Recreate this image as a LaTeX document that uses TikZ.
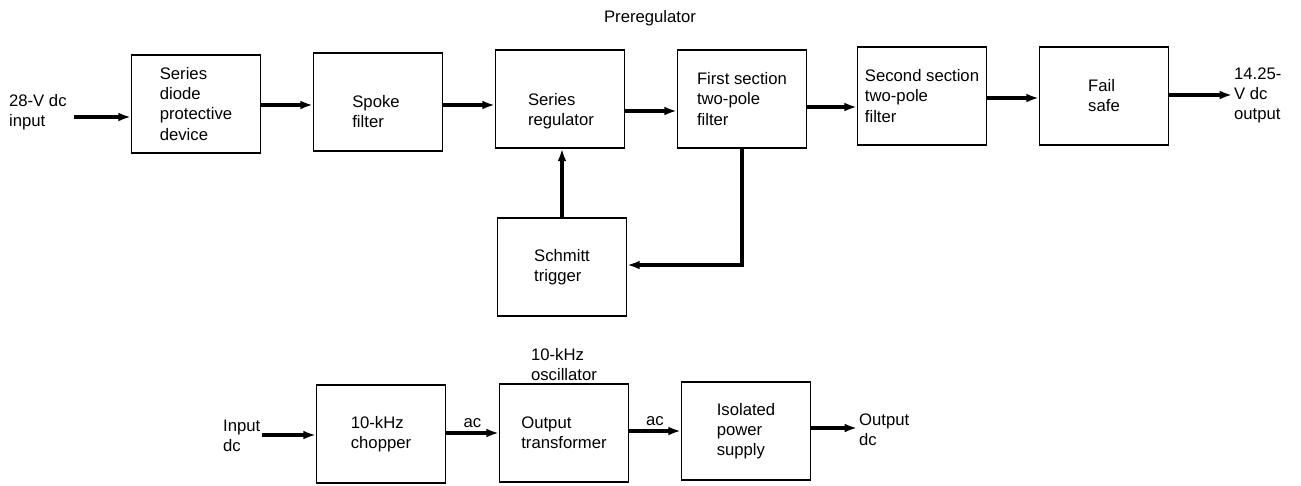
\documentclass[tikz,border=0pt]{standalone}
\usepackage{fontspec}
\setmainfont{Liberation Sans}
\usetikzlibrary{arrows.meta,positioning}
\tikzset{
	blk/.style={draw, line width=0.9pt, minimum width=2.58cm, minimum height=1.96cm, align=left},
	lbl/.style={align=left, inner sep=1pt},
	arr/.style={line width=1.8pt, -{Latex[length=7pt,width=5pt]}}
}
\begin{document}
\begin{tikzpicture}[x=0.02cm, y=-0.02cm, font=\fontsize{9.5}{11.4}\selectfont]
		\useasboundingbox (0,0) rectangle (1301,485);
		\node[blk] (dio) at (196,104) {Series\\diode\\protective\\device};
		\node[blk] (spk) at (378,102) {};
		\node[lbl] (spkt) at (376,112) {Spoke\\filter};
		\node[blk] (reg) at (560,99) {};
		\node[lbl] (regt) at (561,111) {Series\\regulator};
		\node[blk] (fst) at (742,99) {First section\\two-pole\\filter};
		\node[blk] (snd) at (922,96) {Second section\\two-pole\\filter};
		\node[blk] (fail) at (1104,96) {Fail\\safe};
		\node[blk] (sch) at (562,267) {Schmitt\\trigger};
		\node[blk] (chp) at (381,434) {10-kHz\\chopper};
		\node[blk] (trf) at (564,433) {Output\\transformer};
		\node[blk] (iso) at (746,431) {Isolated\\power\\supply};
		\node[lbl, anchor=west] (vin) at (7,112) {28-V dc\\input};
		\node[lbl, anchor=west] (vout) at (1232,95) {14.25-\\V dc\\output};
		\node[lbl, anchor=west] (din) at (221,436) {Input\\dc};
		\node[lbl, anchor=west] (dout) at (857,430) {Output\\dc};
		\node (pre) at (650,18) {Preregulator};
		\node[lbl, anchor=south] (osc) at (trf.north) {10-kHz\\oscillator};
		\draw[arr] ([xshift=3pt]vin.east |- 0,117) -- (dio.west |- 0,117);
		\foreach \a/\b/\y in {dio/spk/105, spk/reg/105, reg/fst/111, fst/snd/107, snd/fail/98}
			\draw[arr] (\a.east |- 0,\y) -- (\b.west |- 0,\y);
		\draw[arr] (fail.east |- vout.west) -- (vout.west);
		\draw[arr] (sch.north) -- (reg.south -| sch.north);
		\draw[arr] (fst.south) -- (fst.south |- 0,265) -- (sch.east |- 0,265);
		\draw[arr] (din.east |- 0,435) -- (chp.west |- 0,435);
		\draw[arr] (chp.east |- 0,433) -- node[above, inner sep=2pt] (ac1) {ac} (trf.west |- 0,433);
		\draw[arr] (trf.east |- 0,431) -- node[above, inner sep=2pt] (ac2) {ac} (iso.west |- 0,431);
		\draw[arr] (iso.east |- 0,428) -- (dout.west |- 0,428);
	\end{tikzpicture}
\end{document}
